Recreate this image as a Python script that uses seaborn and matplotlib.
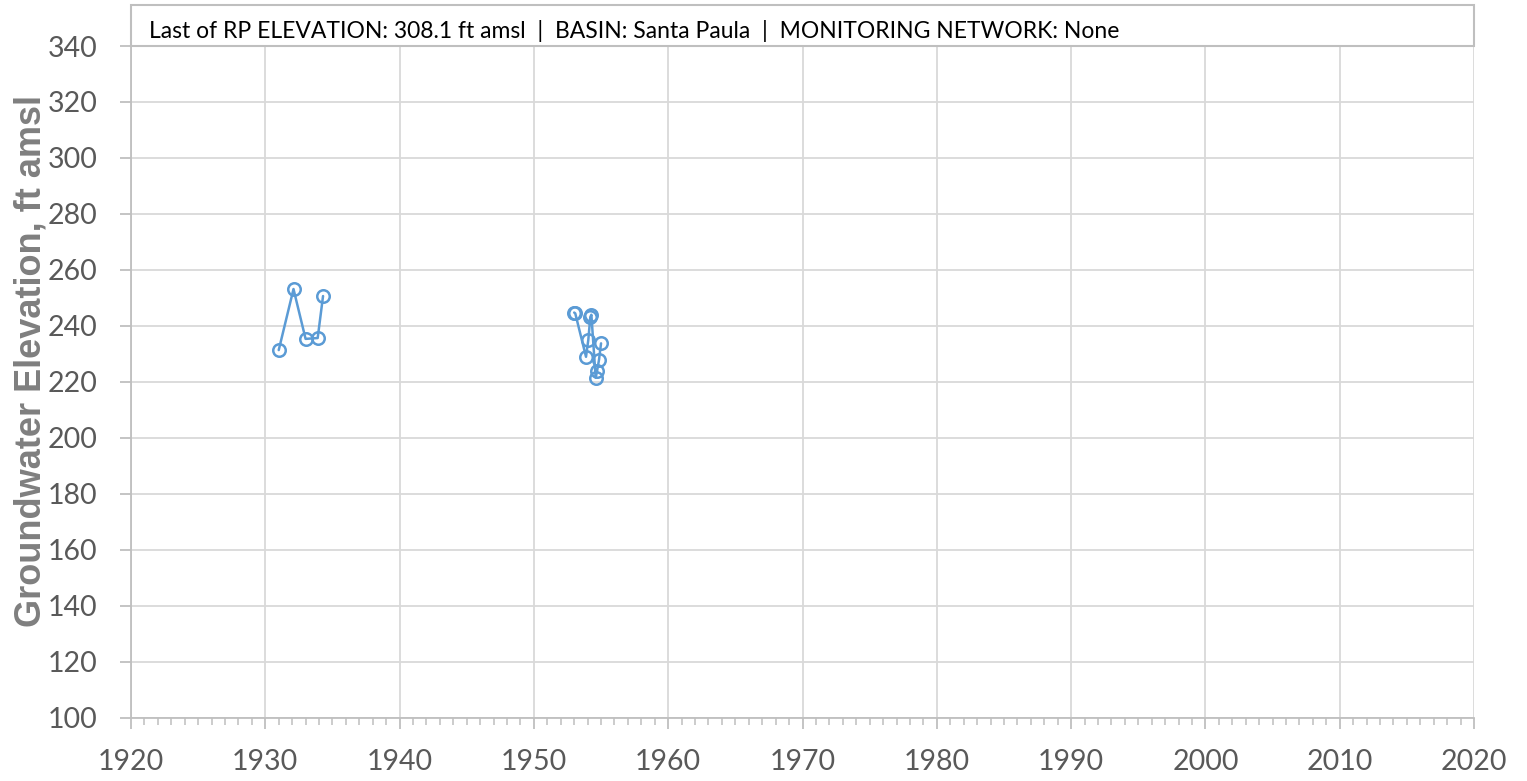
import matplotlib
matplotlib.use("Agg")
import matplotlib.pyplot as plt
import seaborn as sns
import pandas as pd
from matplotlib.ticker import MultipleLocator
from matplotlib.patches import Rectangle

# Data
years_a = [1931.0, 1932.1, 1933.0, 1933.9, 1934.3]
elev_a = [231.4, 253.2, 235.4, 235.7, 250.7]
years_b = [1953.0, 1953.08, 1953.88, 1954.05, 1954.2, 1954.28, 1954.6, 1954.7, 1954.85, 1955.0]
elev_b = [244.8, 244.5, 229.0, 235.0, 243.2, 244.0, 221.5, 223.8, 228.0, 233.8]

header = "Last of RP ELEVATION: 308.1 ft amsl  |  BASIN: Santa Paula  |  MONITORING NETWORK: None"
ylabel = "Groundwater Elevation, ft amsl"
x_ticks = list(range(1920, 2021, 10))
y_ticks = list(range(100, 341, 20))

df = pd.DataFrame({
    "year": years_a + years_b,
    "elev": elev_a + elev_b,
    "grp": ["a"] * len(years_a) + ["b"] * len(years_b),
})

sns.set_theme(style="white")
plt.rcParams["font.family"] = ["Lato", "DejaVu Sans"]

W, H = 1527, 781
fig = plt.figure(figsize=(W / 100, H / 100), dpi=100)
L, R, B, T = 131, 1474, 718, 46
ax = fig.add_axes([L / W, 1 - B / H, (R - L) / W, (B - T) / H])

color = "#5B9BD5"
sns.lineplot(data=df, x="year", y="elev", units="grp", estimator=None, ax=ax,
             color=color, linewidth=1.8, marker="o", markersize=9,
             markerfacecolor="none", markeredgecolor=color, markeredgewidth=1.8,
             sort=False, legend=False)

ax.set_xlim(1920, 2020)
ax.set_ylim(100, 340)
ax.set_xticks(x_ticks)
ax.set_yticks(y_ticks)
ax.xaxis.set_minor_locator(MultipleLocator(1))
ax.grid(True, which="major", color="#d9d9d9", linewidth=1.3)
ax.set_axisbelow(True)

for s in ["top", "right"]:
    ax.spines[s].set_visible(False)
for s in ["left", "bottom"]:
    ax.spines[s].set_color("#bfbfbf")
    ax.spines[s].set_linewidth(1.3)

ax.tick_params(axis="both", which="both", bottom=True, left=True)
ax.tick_params(axis="both", which="major", direction="out", length=8, width=1.3,
               color="#bfbfbf", labelsize=20.5, labelcolor="#595959")
ax.tick_params(axis="x", which="minor", direction="out", length=5, width=1.1, color="#bfbfbf")
ax.tick_params(axis="x", which="major", pad=14)
ax.tick_params(axis="y", which="major", pad=16)
ax.tick_params(axis="y", which="minor", left=False)

ax.set_xlabel("")
ax.set_ylabel(ylabel, fontsize=26, fontweight="bold", color="#7f7f7f",
              family=["Liberation Sans", "DejaVu Sans"])
ax.yaxis.set_label_coords(-82 / (R - L), (B - 361) / (B - T))

# header box above the plot
top_frac = (B - 5) / (B - T)
rect = Rectangle((0, 1), 1, top_frac - 1, transform=ax.transAxes, fill=False,
                 edgecolor="#bfbfbf", linewidth=1.5, clip_on=False)
ax.add_patch(rect)
ax.text(18 / (R - L), (B - 38) / (B - T), header, transform=ax.transAxes,
        ha="left", va="baseline", fontsize=16.5, color="#000000")

fig.savefig("out.png", dpi=100)
